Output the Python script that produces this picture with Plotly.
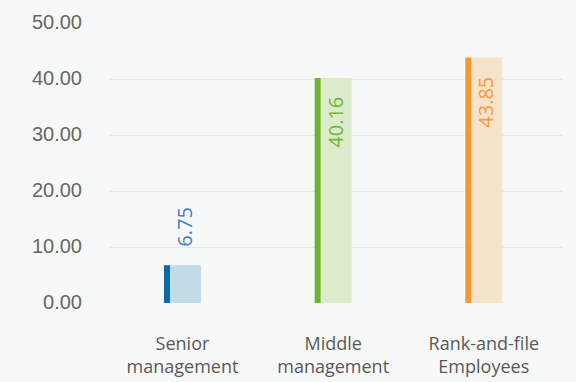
import plotly.graph_objects as go

# Data
categories = ["Senior<br>management", "Middle<br>management", "Rank-and-file<br>Employees"]
values = [6.75, 40.16, 43.85]
value_labels = ["6.75", "40.16", "43.85"]
label_inside = [False, True, True]

y_ticks = [0, 10, 20, 30, 40, 50]
y_tick_labels = ["0.00", "10.00", "20.00", "30.00", "40.00", "50.00"]

# Styling
accent_colors = ["#0b6aa8", "#6cb52d", "#f39a2f"]
fill_colors = ["#c2dbe8", "#dcebcc", "#f6e3cb"]
text_colors = ["#3a7ec8", "#72b63a", "#f29d3e"]
bg = "#f7f8f8"

pos = list(range(len(categories)))

# bar geometry in axis units
accent_offset, accent_width = -0.1227, 0.0398
fill_offset, fill_width = -0.0829, 0.2055

fig = go.Figure()
fig.add_trace(go.Bar(
    x=pos, y=values, offset=fill_offset, width=fill_width,
    marker=dict(color=fill_colors, line=dict(width=0)),
    hoverinfo="skip", showlegend=False,
))
fig.add_trace(go.Bar(
    x=pos, y=values, offset=accent_offset, width=accent_width,
    marker=dict(color=accent_colors, line=dict(width=0)),
    hoverinfo="skip", showlegend=False,
))

# rotated value labels
for p, v, t, inside, c in zip(pos, values, value_labels, label_inside, text_colors):
    fig.add_annotation(
        x=p + fill_offset + fill_width / 2, y=v, xref="x", yref="y",
        text=t, textangle=-90, showarrow=False,
        font=dict(family="Open Sans", size=20, color=c),
        xanchor="center",
        yanchor="top" if inside else "bottom",
        yshift=-17 if inside else 17,
        xshift=-1,
    )

fig.update_layout(
    width=576, height=382,
    margin=dict(l=110, r=14, t=23, b=79),
    paper_bgcolor=bg, plot_bgcolor=bg,
    barmode="overlay",
    xaxis=dict(
        range=[-0.481, 2.519], automargin=False,
        tickvals=pos, ticktext=categories,
        showgrid=False, zeroline=False, showline=False,
        ticks="", ticklabelstandoff=28,
        tickfont=dict(family="Open Sans", size=18, color="#595959"),
    ),
    yaxis=dict(
        range=[0, 50], automargin=False,
        tickvals=y_ticks, ticktext=y_tick_labels,
        showgrid=True, gridcolor="#e6e6e6", gridwidth=1,
        zeroline=False, showline=False, ticks="",
        ticklabelstandoff=27, ticklabelshift=-1,
        tickfont=dict(family="Liberation Sans", size=20, color="#666666"),
    ),
)

fig.write_html("out.html")
